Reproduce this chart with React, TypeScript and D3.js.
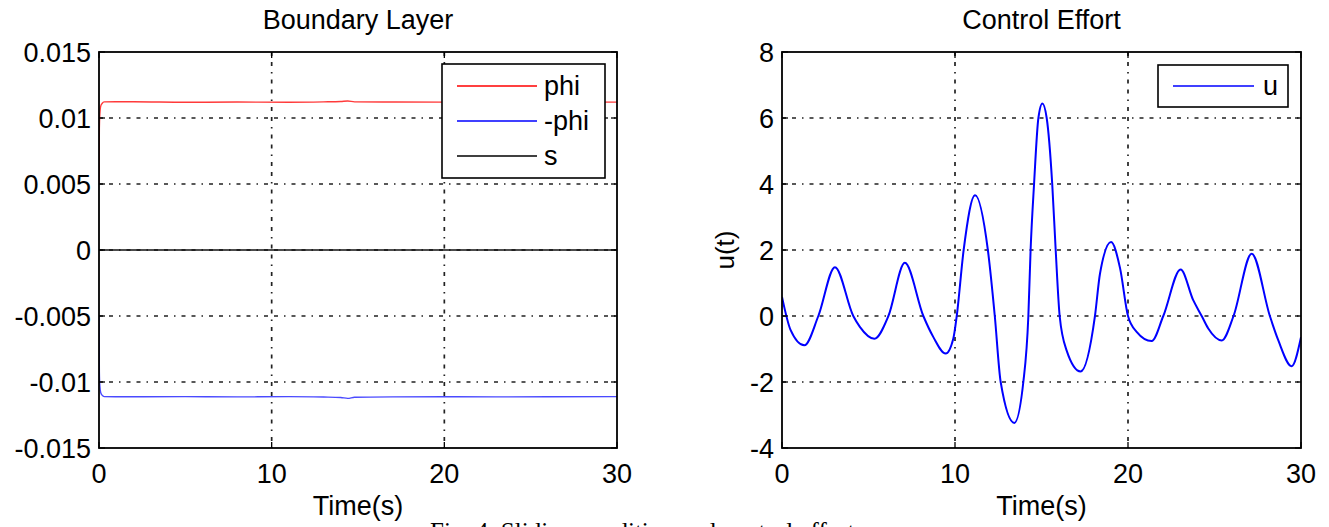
import React from "react";
import * as d3 from "d3";

// ---------- data ----------
const xTicks = [0, 10, 20, 30];
const leftYTicks = [-0.015, -0.01, -0.005, 0, 0.005, 0.01, 0.015];
const leftYTickLabels = ["-0.015", "-0.01", "-0.005", "0", "0.005", "0.01", "0.015"];
const rightYTicks = [-4, -2, 0, 2, 4, 6, 8];

const phiT = [0, 0.02, 0.05, 0.1, 0.18, 0.3, 2, 5, 8, 11, 13, 14, 14.4, 14.8, 17, 20, 23, 26, 30];
const phiV = [0.005, 0.0092, 0.0103, 0.0109, 0.0111, 0.01122, 0.01123, 0.01119, 0.01121, 0.01119, 0.01122, 0.01125, 0.01129, 0.01122, 0.01121, 0.0112, 0.01122, 0.01121, 0.0112];

const negPhiT = [0, 0.02, 0.05, 0.1, 0.18, 0.3, 2, 5, 8, 11, 13, 14, 14.4, 14.8, 17, 20, 23, 26, 30];
const negPhiV = [-0.005, -0.0092, -0.0103, -0.0108, -0.011, -0.01111, -0.01112, -0.01111, -0.01113, -0.01111, -0.01114, -0.01117, -0.01124, -0.01116, -0.01113, -0.01112, -0.01113, -0.01112, -0.01111];

const sT = [0, 30];
const sV = [0, 0];

const uT = [0, 0.5, 1.29, 2.1, 3.06, 4.12, 4.5, 5.34, 6.15, 7.1, 8.17, 8.75, 9.46, 9.9, 10.1, 10.5, 11.16, 11.9, 12.3, 12.64, 13.43, 13.95, 14.24, 14.37, 14.57, 14.82, 15.05, 15.3, 15.62, 15.82, 16.05, 16.45, 17.26, 18.09, 18.38, 19.02, 19.54, 20.0, 20.5, 21.37, 22.04, 23.04, 23.77, 24.26, 24.64, 25.42, 26.1, 27.15, 28.2, 28.69, 29.46, 30];
const uV = [0.58, -0.43, -0.89, 0, 1.48, 0, -0.33, -0.69, 0, 1.61, 0, -0.64, -1.14, -0.69, 0, 2, 3.66, 2, 0, -2, -3.24, -2, 0, 2, 4, 6, 6.44, 6, 4, 2, 0, -1.04, -1.68, 0, 1.28, 2.24, 1.45, 0, -0.48, -0.76, 0, 1.41, 0.48, 0, -0.38, -0.74, 0, 1.89, 0, -0.74, -1.52, -0.64];

const leftLegend = ["phi", "-phi", "s"];
const rightLegend = ["u"];

// ---------- layout ----------
const W = 1329;
const H = 527;
const FONT = "'Liberation Sans', Arial, Helvetica, sans-serif";
const FS = 27;
const top = 52;
const bottom = 448;

const GRID_DASH = "4,6,4,6,1.5,6";

type Series = { t: number[]; v: number[]; color: string; width: number };

function Panel(props: {
  x0: number;
  x1: number;
  yDomain: [number, number];
  yTicks: number[];
  yLabels: string[];
  title: string;
  ylabel?: string;
  series: Series[];
  legend: { labels: string[]; colors: string[]; box: [number, number, number, number]; lineX: [number, number]; rowY0: number; rowDy: number; textX: number };
  clipId: string;
}) {
  const { x0, x1, yDomain, yTicks, yLabels, title, ylabel, series, legend, clipId } = props;
  const xs = d3.scaleLinear().domain([0, 30]).range([x0, x1]);
  const ys = d3.scaleLinear().domain(yDomain).range([bottom, top]);
  const line = d3
    .line<[number, number]>()
    .x((d) => xs(d[0]))
    .y((d) => ys(d[1]))
    .curve(d3.curveMonotoneX);
  const cx = (x0 + x1) / 2;
  const tickLen = 6;
  return (
    <g>
      <defs>
        <clipPath id={clipId}>
          <rect x={x0} y={top} width={x1 - x0} height={bottom - top} />
        </clipPath>
      </defs>
      {/* grid */}
      {xTicks.slice(1, -1).map((t) => (
        <line key={"gx" + t} x1={xs(t)} x2={xs(t)} y1={top} y2={bottom} stroke="#222" strokeWidth={1.7} strokeDasharray={GRID_DASH} />
      ))}
      {yTicks.slice(1, -1).map((t) => (
        <line key={"gy" + t} x1={x0} x2={x1} y1={ys(t)} y2={ys(t)} stroke="#222" strokeWidth={1.7} strokeDasharray={GRID_DASH} />
      ))}
      {/* series */}
      <g clipPath={`url(#${clipId})`}>
        {series.map((s, i) => (
          <path
            key={i}
            d={line(s.t.map((t, j) => [t, s.v[j]] as [number, number])) || ""}
            fill="none"
            stroke={s.color}
            strokeWidth={s.width}
            strokeLinejoin="round"
          />
        ))}
      </g>
      {/* ticks */}
      {xTicks.map((t) => (
        <g key={"tx" + t}>
          <line x1={xs(t)} x2={xs(t)} y1={bottom} y2={bottom - tickLen} stroke="#000" strokeWidth={1.3} />
          <line x1={xs(t)} x2={xs(t)} y1={top} y2={top + tickLen} stroke="#000" strokeWidth={1.3} />
          <text x={xs(t)} y={483} textAnchor="middle" fontFamily={FONT} fontSize={FS} fill="#000">
            {t}
          </text>
        </g>
      ))}
      {yTicks.map((t, i) => (
        <g key={"ty" + t}>
          <line x1={x0} x2={x0 + tickLen} y1={ys(t)} y2={ys(t)} stroke="#000" strokeWidth={1.3} />
          <line x1={x1} x2={x1 - tickLen} y1={ys(t)} y2={ys(t)} stroke="#000" strokeWidth={1.3} />
          <text x={x0 - 8} y={ys(t) + 9.5} textAnchor="end" fontFamily={FONT} fontSize={FS} fill="#000">
            {yLabels[i]}
          </text>
        </g>
      ))}
      {/* box */}
      <rect x={x0} y={top} width={x1 - x0} height={bottom - top} fill="none" stroke="#000" strokeWidth={1.8} />
      {/* legend */}
      <rect
        x={legend.box[0]}
        y={legend.box[1]}
        width={legend.box[2] - legend.box[0]}
        height={legend.box[3] - legend.box[1]}
        fill="#fff"
        stroke="#000"
        strokeWidth={1.6}
      />
      {legend.labels.map((lab, i) => {
        const y = legend.rowY0 + i * legend.rowDy;
        return (
          <g key={"lg" + i}>
            <line x1={legend.lineX[0]} x2={legend.lineX[1]} y1={y} y2={y} stroke={legend.colors[i]} strokeWidth={1.6} />
            <text x={legend.textX} y={y + 9} fontFamily={FONT} fontSize={FS} fill="#000">
              {lab}
            </text>
          </g>
        );
      })}
      {/* labels */}
      <text x={cx} y={29} textAnchor="middle" fontFamily={FONT} fontSize={FS} fill="#000">
        {title}
      </text>
      <text x={cx} y={515} textAnchor="middle" fontFamily={FONT} fontSize={FS} fill="#000">
        Time(s)
      </text>
      {ylabel ? (
        <text
          transform={`translate(734, ${(top + bottom) / 2}) rotate(-90)`}
          textAnchor="middle"
          fontFamily={FONT}
          fontSize={26}
          fill="#000"
        >
          {ylabel}
        </text>
      ) : null}
    </g>
  );
}

export default function App() {
  return (
    <svg
      width={W}
      height={H}
      viewBox={`0 0 ${W} ${H}`}
      style={{ position: "absolute", left: 0, top: 0, background: "#fff", overflow: "hidden" }}
    >
      <rect x={0} y={0} width={W} height={H} fill="#fff" />
      <Panel
        clipId="clipL"
        x0={99}
        x1={617}
        yDomain={[-0.015, 0.015]}
        yTicks={leftYTicks}
        yLabels={leftYTickLabels}
        title="Boundary Layer"
        series={[
          { t: sT, v: sV, color: "#111", width: 1.4 },
          { t: phiT, v: phiV, color: "#ff3a3a", width: 1.4 },
          { t: negPhiT, v: negPhiV, color: "#4a4aff", width: 1.4 },
        ]}
        legend={{
          labels: leftLegend,
          colors: ["#ff0000", "#0000ff", "#000"],
          box: [442, 64, 605, 178],
          lineX: [457, 537],
          rowY0: 86,
          rowDy: 35,
          textX: 544,
        }}
      />
      <Panel
        clipId="clipR"
        x0={782}
        x1={1301}
        yDomain={[-4, 8]}
        yTicks={rightYTicks}
        yLabels={rightYTicks.map(String)}
        title="Control Effort"
        ylabel="u(t)"
        series={[{ t: uT, v: uV, color: "#0000ff", width: 2 }]}
        legend={{
          labels: rightLegend,
          colors: ["#0000ff"],
          box: [1158, 65, 1288, 107],
          lineX: [1173, 1254],
          rowY0: 86,
          rowDy: 35,
          textX: 1263,
        }}
      />
      <text x={430} y={540} fontFamily="'Liberation Serif', 'Times New Roman', serif" fontSize={25} fill="#000">
        Fig. 4. Sliding condition and control effort
      </text>
    </svg>
  );
}
